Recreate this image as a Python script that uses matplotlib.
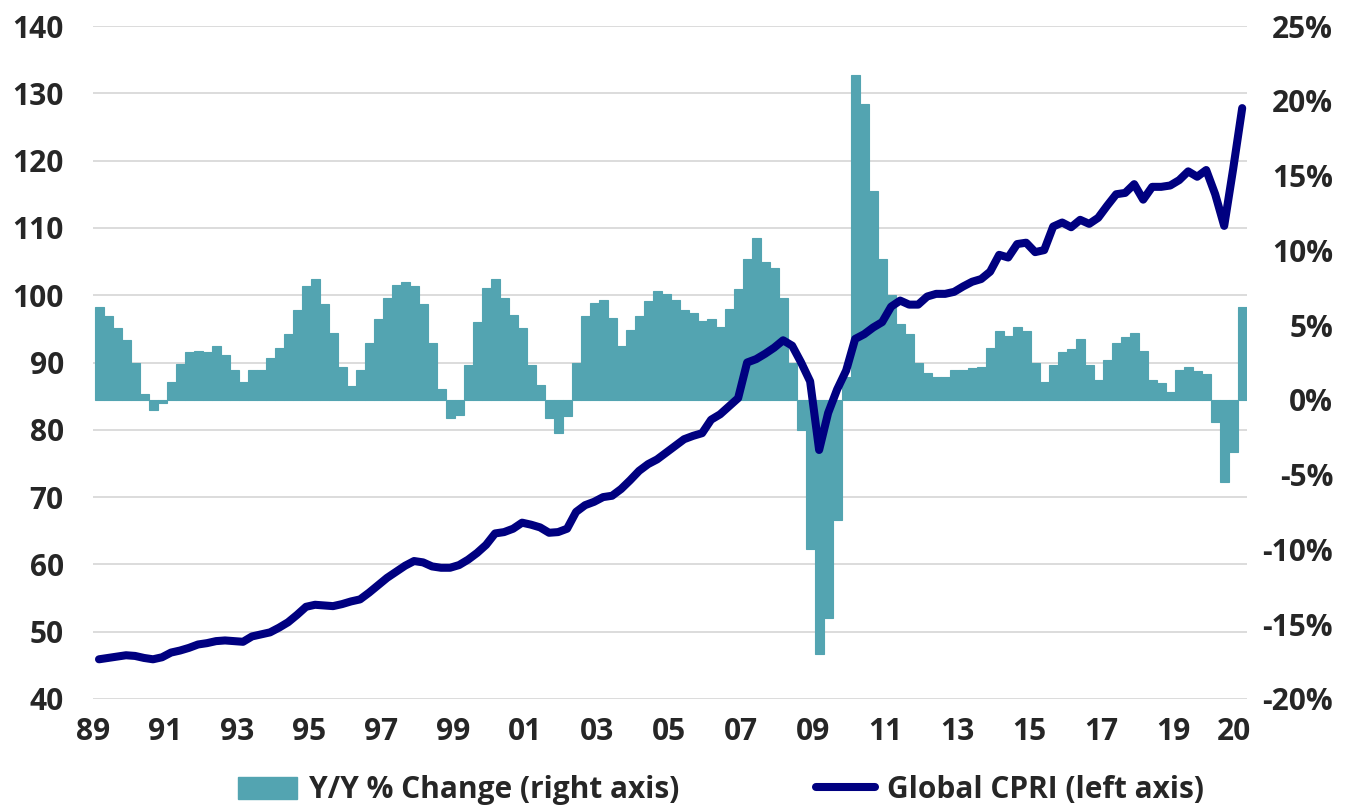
from __future__ import annotations

import matplotlib

matplotlib.use("Agg")
import matplotlib.pyplot as plt
import pandas as pd
from matplotlib.font_manager import FontProperties
from matplotlib.lines import Line2D
from matplotlib.patches import Patch
from matplotlib.ticker import FuncFormatter

# ---------------------------------------------------------------------------
# Dati (trimestrali)
# ---------------------------------------------------------------------------
FIRST_QUARTER = "1989Q1"
LAST_QUARTER = "2020Q4"

# Global CPRI (asse sinistro)
cpri = [
    45.9, 46.1, 46.3, 46.5,      # 1989
    46.4, 46.1, 45.9, 46.2,      # 1990
    46.9, 47.2, 47.6, 48.1,      # 1991
    48.3, 48.6, 48.7, 48.6,      # 1992
    48.5, 49.3, 49.6, 49.9,      # 1993
    50.6, 51.4, 52.5, 53.7,      # 1994
    54.0, 53.9, 53.8, 54.1,      # 1995
    54.5, 54.8, 55.8, 56.9,      # 1996
    58.0, 58.9, 59.8, 60.5,      # 1997
    60.3, 59.7, 59.5, 59.5,      # 1998
    59.9, 60.7, 61.7, 62.9,      # 1999
    64.6, 64.8, 65.3, 66.2,      # 2000
    65.9, 65.5, 64.7, 64.8,      # 2001
    65.3, 67.8, 68.8, 69.3,      # 2002
    70.0, 70.2, 71.2, 72.5,      # 2003
    73.9, 74.9, 75.6, 76.6,      # 2004
    77.6, 78.6, 79.1, 79.5,      # 2005
    81.5, 82.3, 83.5, 84.7,      # 2006
    90.0, 90.5, 91.3, 92.2,      # 2007
    93.3, 92.5, 90.0, 87.2,      # 2008
    77.0, 82.5, 86.0, 88.8,      # 2009
    93.5, 94.2, 95.2, 96.0,      # 2010
    98.3, 99.2, 98.6, 98.6,      # 2011
    99.8, 100.2, 100.2, 100.5,   # 2012
    101.3, 102.0, 102.4, 103.5,  # 2013
    106.0, 105.6, 107.6, 107.8,  # 2014
    106.4, 106.7, 110.2, 110.8,  # 2015
    110.1, 111.2, 110.6, 111.5,  # 2016
    113.3, 115.0, 115.2, 116.5,  # 2017
    114.2, 116.1, 116.1, 116.3,  # 2018
    117.1, 118.4, 117.6, 118.6,  # 2019
    115.0, 110.3, 118.8, 127.8,  # 2020
]

# Variazione Y/Y in % (asse destro)
yoy = [
    6.2, 5.6, 4.8, 4.0,
    2.5, 0.4, -0.7, -0.2,
    1.2, 2.4, 3.2, 3.3,
    3.2, 3.6, 3.0, 2.0,
    1.2, 2.0, 2.0, 2.8,
    3.5, 4.4, 6.0, 7.6,
    8.1, 6.4, 4.5, 2.2,
    0.9, 2.0, 3.8, 5.4,
    6.8, 7.7, 7.9, 7.6,
    6.4, 3.8, 0.7, -1.2,
    -1.0, 2.3, 5.2, 7.5,
    8.1, 6.8, 5.7, 4.8,
    2.3, 1.0, -1.2, -2.2,
    -1.1, 2.5, 5.6, 6.5,
    6.7, 5.5, 3.6, 4.7,
    5.6, 6.6, 7.3, 7.1,
    6.7, 6.0, 5.8, 5.3,
    5.4, 4.9, 6.1, 7.4,
    9.4, 10.8, 9.2, 8.8,
    6.8, 2.5, -2.0, -10.0,
    -17.0, -14.6, -8.0, 1.5,
    21.7, 19.8, 14.0, 9.4,
    7.0, 5.1, 4.4, 2.5,
    1.8, 1.5, 1.5, 2.0,
    2.0, 2.1, 2.2, 3.5,
    4.6, 4.3, 4.9, 4.6,
    2.5, 1.2, 2.3, 3.2,
    3.4, 4.1, 2.3, 1.3,
    2.7, 3.8, 4.2, 4.5,
    3.3, 1.3, 1.1, 0.5,
    2.0, 2.2, 1.9, 1.7,
    -1.5, -5.5, -3.5, 6.2,
]

tick_years = [1989, 1991, 1993, 1995, 1997, 1999, 2001, 2003, 2005,
              2007, 2009, 2011, 2013, 2015, 2017, 2019, 2020.7]
tick_labels = ["89", "91", "93", "95", "97", "99", "01", "03", "05",
               "07", "09", "11", "13", "15", "17", "19", "20"]

left_ticks = list(range(40, 150, 10))
right_ticks = list(range(-20, 30, 5))

BAR_COLOR = "#53a4b1"
LINE_COLOR = "#000080"
TEXT_COLOR = "#262626"
GRID_COLOR = "#d9d9d9"


def font() -> FontProperties:
    return FontProperties(family=["Open Sans", "DejaVu Sans"], weight="bold",
                          size=21.5)


def main() -> None:
    quarters = pd.period_range(FIRST_QUARTER, LAST_QUARTER, freq="Q")
    # ultimo mese del trimestre espresso come anno decimale
    x = quarters.year + (quarters.quarter * 3 - 1) / 12.0

    fig = plt.figure(figsize=(13.59, 8.08), dpi=100)
    rect = [93 / 1359, 1 - 699 / 808, (1247 - 93) / 1359, (699 - 26) / 808]

    # asse sinistro: solo griglia e tick
    ax_left = fig.add_axes(rect)
    ax_left.set_ylim(40, 140)
    ax_left.set_yticks(left_ticks)
    ax_left.grid(axis="y", color=GRID_COLOR, linewidth=1.3)
    ax_left.set_axisbelow(True)

    # asse destro: barre Y/Y
    ax_right = ax_left.twinx()
    ax_right.bar(x, yoy, width=0.25, color=BAR_COLOR, edgecolor=BAR_COLOR,
                 linewidth=0.8)
    ax_right.set_ylim(-20, 25)
    ax_right.set_yticks(right_ticks)
    ax_right.yaxis.set_major_formatter(FuncFormatter(lambda v, _: f"{v:.0f}%"))

    # linea CPRI sopra le barre, con la stessa scala dell'asse sinistro
    ax_line = fig.add_axes(rect, sharex=ax_left, sharey=ax_left)
    ax_line.plot(x, cpri, color=LINE_COLOR, linewidth=5.8,
                 solid_capstyle="round", solid_joinstyle="round")
    ax_line.axis("off")

    ax_left.set_xlim(1989.0, 2021.05)
    ax_left.set_xticks(tick_years)
    ax_left.set_xticklabels(tick_labels)

    for ax in (ax_left, ax_right):
        for side in ("top", "bottom", "left", "right"):
            ax.spines[side].set_visible(False)
        for lab in ax.get_xticklabels() + ax.get_yticklabels():
            lab.set_fontproperties(font())
            lab.set_color(TEXT_COLOR)

    ax_left.tick_params(axis="x", length=0, pad=13)
    ax_left.tick_params(axis="y", length=0, pad=21)
    ax_right.tick_params(axis="y", length=0, pad=62)
    for lab in ax_right.get_yticklabels():
        lab.set_horizontalalignment("right")

    handles = [
        Patch(facecolor=BAR_COLOR, edgecolor=BAR_COLOR),
        Line2D([0], [0], color=LINE_COLOR, linewidth=5.8, solid_capstyle="round"),
    ]
    labels = ["Y/Y % Change (right axis)", "Global CPRI (left axis)"]
    leg = fig.legend(handles, labels, loc="center", ncol=2, frameon=False,
                     bbox_to_anchor=(721 / 1359, 1 - 790 / 808), prop=font(),
                     handlelength=1.95, handleheight=0.75, handletextpad=0.4,
                     columnspacing=4.6, borderpad=0.1)
    for t in leg.get_texts():
        t.set_color(TEXT_COLOR)

    fig.savefig("out.png", dpi=100)
    plt.close(fig)


if __name__ == "__main__":
    main()
